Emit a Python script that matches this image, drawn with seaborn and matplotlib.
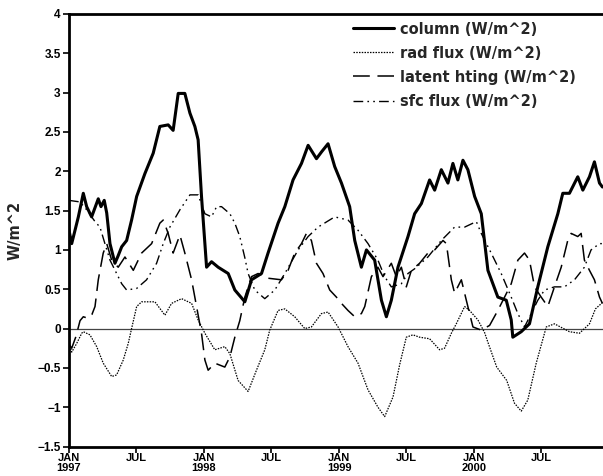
import numpy as np
import pandas as pd
import matplotlib
matplotlib.use("Agg")
import matplotlib.pyplot as plt
from matplotlib.lines import Line2D
import seaborn as sns

# ---- data: time in months since 1 Jan 1997, values in W/m^2 ----
column_t = [0, 0.24, 0.83, 1.27, 1.57, 2.01, 2.6, 2.84, 3.13, 3.35, 3.64, 4.08, 4.35, 4.68,
            5.12, 5.56, 6.01, 6.74, 7.48, 8.07, 8.81, 9.25, 9.7, 10.29, 10.74, 11.18, 11.47,
            11.77, 12.22, 12.66, 13.25, 14.14, 14.73, 15.62, 16.21, 17.1, 17.68, 18.57,
            19.17, 19.9, 20.65, 21.24, 21.98, 22.45, 23.01, 23.6, 24.2, 24.93, 25.38, 25.97,
            26.42, 27.15, 27.75, 28.19, 28.63, 29.22, 30.11, 30.7, 31.3, 32.03, 32.48, 33.07,
            33.66, 34.1, 34.54, 34.99, 35.43, 36.03, 36.62, 37.21, 38.09, 38.84, 39.28, 39.42,
            40.17, 40.9, 41.64, 42.53, 43.42, 43.86, 44.45, 45.19, 45.64, 46.23, 46.67,
            47.12, 47.38]
column_v = [1.25, 1.08, 1.42, 1.72, 1.55, 1.42, 1.65, 1.55, 1.63, 1.47, 1.08, 0.83, 0.92, 1.04,
            1.12, 1.38, 1.68, 1.97, 2.23, 2.57, 2.59, 2.52, 2.99, 2.99, 2.74, 2.57, 2.40,
            1.68, 0.78, 0.85, 0.78, 0.70, 0.49, 0.34, 0.62, 0.70, 0.96, 1.34,
            1.55, 1.89, 2.10, 2.33, 2.16, 2.25, 2.35, 2.06, 1.85, 1.55, 1.12, 0.78,
            1.00, 0.87, 0.36, 0.15, 0.36, 0.78, 1.17, 1.46, 1.59, 1.89, 1.76, 2.02,
            1.85, 2.10, 1.89, 2.14, 2.02, 1.68, 1.46, 0.74, 0.40, 0.36, 0.11, -0.11,
            -0.04, 0.06, 0.53, 1.04, 1.46, 1.72, 1.72, 1.93, 1.76, 1.93, 2.12,
            1.85, 1.80]

rad_t = [0, 0.24, 0.68, 1.13, 1.27, 1.86, 2.46, 3.04, 3.79, 4.23, 4.82, 5.26, 5.56, 6.01,
         6.45, 7.63, 8.52, 9.11, 10.0, 10.89, 11.47, 12.07, 12.95, 13.84, 14.29, 15.02,
         15.91, 16.65, 17.39, 17.83, 18.57, 19.17, 20.05, 20.94, 21.53, 22.42, 23.01,
         23.9, 24.78, 25.67, 26.56, 27.44, 28.04, 28.78, 29.37, 29.96, 30.55, 31.14,
         32.03, 32.92, 33.36, 33.96, 34.4, 35.14, 35.58, 36.32, 36.91, 37.27, 37.99,
         38.88, 39.57, 40.17, 40.75, 41.5, 42.39, 43.12, 44.45, 45.34, 46.23, 46.76, 47.38]
rad_v = [-0.19, -0.30, -0.19, -0.06, -0.04, -0.08, -0.23, -0.44, -0.61, -0.59, -0.40, -0.19,
         0.0, 0.28, 0.34, 0.34, 0.17, 0.32, 0.38, 0.32, 0.11, -0.06, -0.27, -0.23, -0.32,
         -0.66, -0.80, -0.53, -0.27, -0.02, 0.23, 0.25, 0.15, 0.0, 0.02, 0.19, 0.21,
         0.02, -0.23, -0.44, -0.78, -1.00, -1.12, -0.87, -0.46, -0.11, -0.08, -0.11,
         -0.13, -0.27, -0.25, -0.06, 0.06, 0.28, 0.23, 0.11, -0.05, -0.20, -0.49,
         -0.66, -0.95, -1.05, -0.91, -0.44, 0.02, 0.06, -0.04, -0.06, 0.06, 0.25, 0.33]

latent_t = [0, 0.24, 0.62, 0.98, 1.27, 1.69, 2.04, 2.31, 2.6, 3.04, 3.35, 3.79, 4.37, 4.97,
            5.71, 6.45, 7.34, 8.07, 8.37, 8.81, 9.25, 9.85, 10.29, 10.89, 11.33, 11.77,
            12.07, 12.36, 12.95, 13.84, 14.29, 14.73, 15.17, 15.62, 16.21, 16.8, 17.68,
            18.87, 19.46, 20.05, 20.65, 21.09, 21.53, 21.98, 22.56, 23.16, 23.75, 24.2,
            24.78, 25.38, 25.97, 26.27, 26.86, 27.44, 27.89, 28.63, 29.07, 29.52, 29.96,
            30.41, 31.14, 31.88, 32.48, 33.22, 33.52, 33.96, 34.25, 34.85, 35.29, 35.88,
            36.62, 37.36, 38.09, 38.69, 39.28, 39.87, 40.46, 40.9, 41.35, 41.94, 42.53,
            43.12, 43.72, 44.3, 44.6, 45.19, 45.49, 45.78, 46.23, 46.67, 47.12, 47.38]
latent_v = [-0.20, -0.25, -0.10, 0.10, 0.15, 0.13, 0.18, 0.28, 0.62, 0.96, 1.08, 0.87, 0.78,
            0.91, 0.74, 0.96, 1.08, 1.34, 1.38, 1.21, 0.96, 1.19, 0.96, 0.62, 0.28, -0.06,
            -0.40, -0.53, -0.44, -0.49, -0.36, -0.11, 0.10, 0.40, 0.66, 0.70, 0.64,
            0.62, 0.74, 0.96, 1.08, 1.21, 1.12, 0.83, 0.70, 0.49, 0.40, 0.32,
            0.23, 0.15, 0.19, 0.28, 0.66, 0.78, 0.66, 0.83, 0.66, 0.78, 0.53,
            0.74, 0.83, 0.96, 1.00, 1.12, 1.08, 0.62, 0.45, 0.62, 0.36, 0.02,
            -0.02, 0.04, 0.23, 0.40, 0.57, 0.87, 0.96, 0.87, 0.53, 0.40, 0.28,
            0.53, 0.78, 1.12, 1.21, 1.17, 1.21, 0.87, 0.74, 0.62, 0.40, 0.32]

sfc_t = [0, 0.98, 1.57, 2.31, 2.75, 3.19, 3.64, 4.23, 4.68, 5.12, 6.01, 6.89, 7.78, 8.37,
         8.96, 9.85, 10.74, 11.47, 12.07, 12.66, 13.11, 13.55, 14.29, 14.73, 15.17, 15.62,
         15.91, 16.5, 17.39, 18.28, 19.17, 20.35, 21.24, 22.12, 23.6, 24.78, 25.67, 26.56,
         27.44, 28.04, 28.63, 29.52, 30.11, 30.7, 31.88, 33.07, 34.25, 35.14, 36.18, 36.62,
         37.5, 38.39, 39.28, 39.87, 40.46, 41.06, 41.64, 42.24, 43.12, 44.01, 44.9, 45.78,
         46.37, 47.12, 47.38]
sfc_v = [1.63, 1.61, 1.51, 1.36, 1.29, 1.08, 0.87, 0.70, 0.57, 0.49, 0.51, 0.62, 0.83, 1.08,
         1.29, 1.51, 1.70, 1.70, 1.46, 1.42, 1.55, 1.55, 1.46, 1.34, 1.17, 0.90,
         0.70, 0.49, 0.38, 0.49, 0.70, 1.00, 1.17, 1.29, 1.42, 1.38, 1.25, 1.08,
         0.87, 0.66, 0.53, 0.57, 0.70, 0.76, 0.91, 1.12, 1.29, 1.29, 1.36, 1.21,
         0.96, 0.70, 0.40, 0.19, 0.02, 0.19, 0.36, 0.49, 0.53, 0.53, 0.62, 0.78,
         1.00, 1.08, 1.08]

series_labels = ["column (W/m^2)", "rad flux (W/m^2)",
                 "latent hting (W/m^2)", "sfc flux (W/m^2)"]
y_ticks = [-1.5, -1, -0.5, 0, 0.5, 1, 1.5, 2, 2.5, 3, 3.5, 4]
y_tick_labels = ["\u22121.5", "\u22121", "\u22120.5", "0", "0.5", "1", "1.5",
                 "2", "2.5", "3", "3.5", "4"]
x_tick_dates = ["1997-01-01", "1997-07-01", "1998-01-01", "1998-07-01",
                "1999-01-01", "1999-07-01", "2000-01-01", "2000-07-01"]
x_tick_labels = ["JAN\n1997", "JUL", "JAN\n1998", "JUL", "JAN\n1999", "JUL", "JAN\n2000", "JUL"]

START = pd.Timestamp("1997-01-01")
DAYS_PER_MONTH = 365.25 / 12


def to_dates(months):
    return START + pd.to_timedelta(np.asarray(months) * DAYS_PER_MONTH, unit="D")


sns.set_style("ticks")
plt.rcParams["font.family"] = ["Liberation Sans", "DejaVu Sans"]

fig = plt.figure(figsize=(6.03, 4.76), dpi=100)
ax = fig.add_axes([69 / 603, 1 - 446.5 / 476, 534 / 603, (446.5 - 14) / 476])

styles = [
    dict(lw=2.2, linestyle="-"),
    dict(lw=0.9, linestyle=(0, (1.2, 1.0))),
    dict(lw=1.1, linestyle=(0, (11, 5))),
    dict(lw=1.0, linestyle=(0, (7, 3, 1.2, 3, 1.2, 3))),
]
data = [(column_t, column_v), (rad_t, rad_v), (latent_t, latent_v), (sfc_t, sfc_v)]

ax.axhline(0, color="#444444", lw=0.9, zorder=1)
for (t, v), st in zip(data, styles):
    sns.lineplot(x=to_dates(t), y=v, ax=ax, color="black", estimator=None,
                 sort=False, zorder=3, **st)

# axes limits and ticks
ax.set_xlim(START, START + pd.Timedelta(days=1443.7))
ax.set_ylim(-1.5, 4)
ax.set_yticks(y_ticks)
ax.set_yticklabels(y_tick_labels, fontsize=8.5, fontweight="bold")

ax.set_xticks(pd.to_datetime(x_tick_dates))
ax.set_xticklabels(x_tick_labels, fontsize=8, fontweight="bold", linespacing=0.92)

ax.tick_params(axis="both", direction="out", length=4.5, width=1.2, colors="black")
ax.tick_params(axis="y", pad=1.5)
ax.tick_params(axis="x", pad=0.5)
ax.set_xlabel("")
ax.set_ylabel("W/m^2", fontsize=10.5, fontweight="bold", family="DejaVu Sans")
ax.yaxis.set_label_coords(-0.087, 0.5)

for side in ["left", "bottom", "top"]:
    ax.spines[side].set_visible(True)
    ax.spines[side].set_linewidth(2.0)
    ax.spines[side].set_color("black")
ax.spines["right"].set_visible(False)
ax.grid(False)

handles = [Line2D([], [], color="black", **st) for st in styles]
ax.legend(handles, series_labels, loc="upper left",
          bbox_to_anchor=(353 / 603, 1 - 21.5 / 476), bbox_transform=fig.transFigure,
          frameon=False, borderpad=0, borderaxespad=0, handlelength=2.8,
          handletextpad=0.45, labelspacing=0.62,
          prop=dict(family="DejaVu Sans", weight="bold", size=10.5))

fig.savefig("out.png", dpi=100)
